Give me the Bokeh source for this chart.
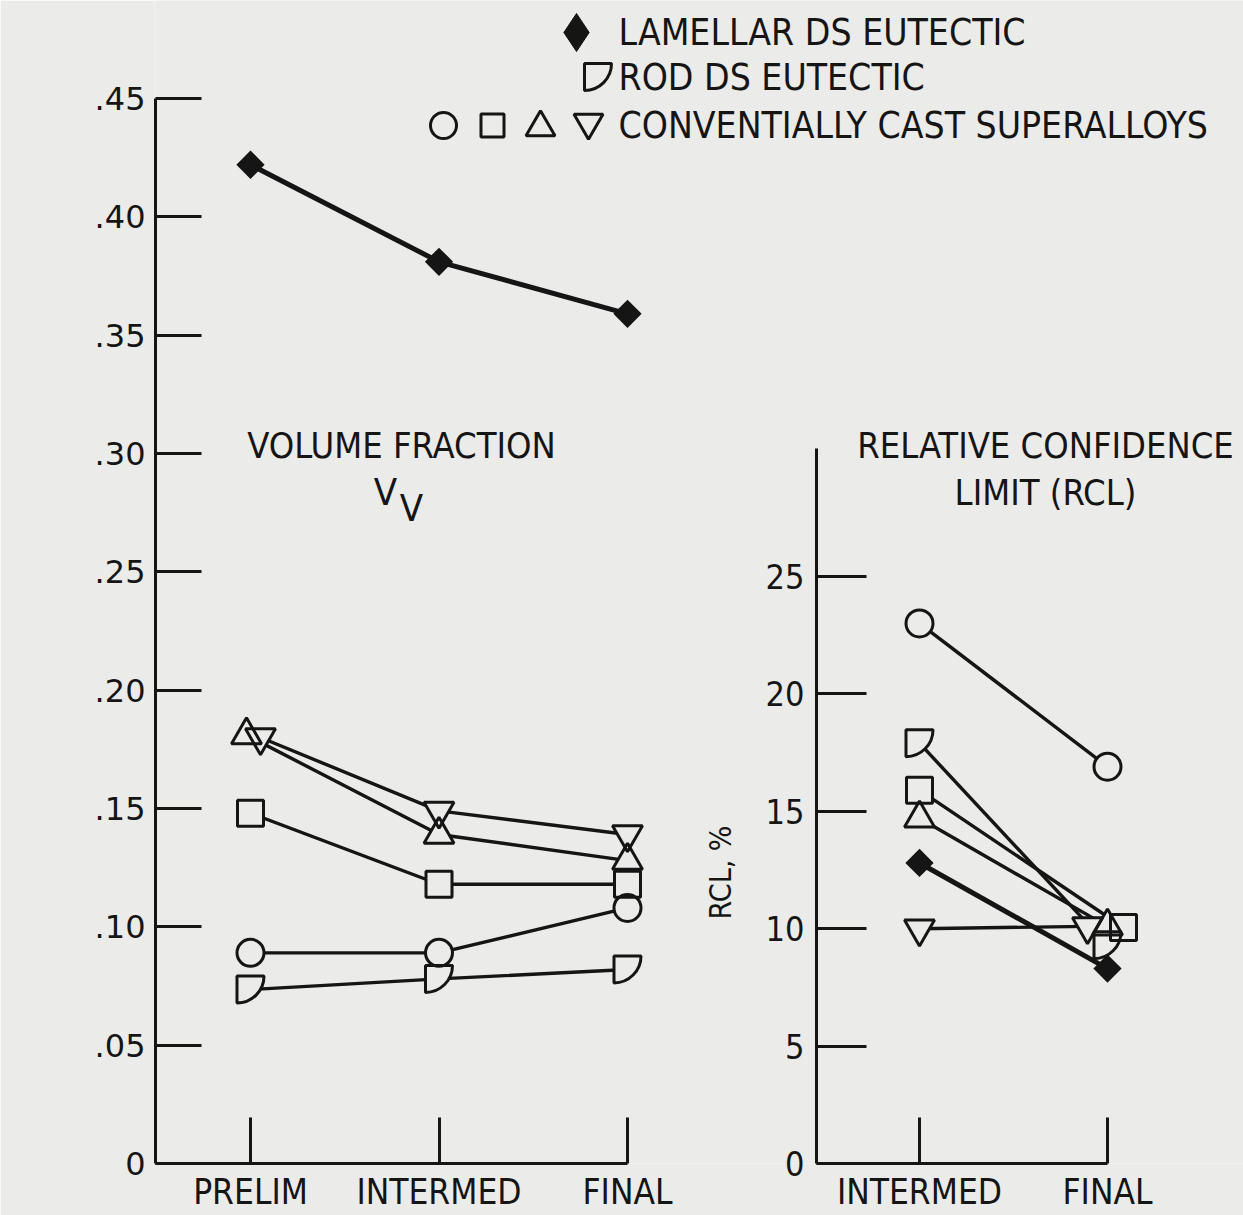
import math
from bokeh.plotting import figure
from bokeh.models import Range1d, FixedTicker, LinearAxis, Label
from bokeh.layouts import row
from bokeh.embed import file_html
from bokeh.resources import INLINE

# ---------------- data ----------------
VV_STAGES = ["PRELIM", "INTERMED", "FINAL"]
RCL_STAGES = ["INTERMED", "FINAL"]

VV_TICKS = [0.0, 0.05, 0.10, 0.15, 0.20, 0.25, 0.30, 0.35, 0.40, 0.45]
VV_TICK_LABELS = ["0", ".05", ".10", ".15", ".20", ".25", ".30", ".35", ".40", ".45"]
RCL_TICKS = [0, 5, 10, 15, 20, 25]
RCL_TICK_LABELS = ["0", "5", "10", "15", "20", "25"]

# volume fraction V_V (PRELIM, INTERMED, FINAL)
VV_LAMELLAR = [0.422, 0.381, 0.359]
VV_ROD = [0.0735, 0.078, 0.082]
VV_CIRCLE = [0.089, 0.089, 0.108]
VV_SQUARE = [0.148, 0.118, 0.118]
VV_TRIANGLE = [0.181, 0.139, 0.128]
VV_INV_TRI = [0.180, 0.149, 0.139]

# relative confidence limit RCL, % (INTERMED, FINAL)
RCL_LAMELLAR = [12.8, 8.3]
RCL_ROD = [17.9, 9.3]
RCL_CIRCLE = [23.0, 16.9]
RCL_SQUARE = [15.9, 10.05]
RCL_TRIANGLE = [14.7, 10.1]
RCL_INV_TRI = [10.0, 10.1]

LEGEND_TEXT = ["LAMELLAR DS EUTECTIC", "ROD DS EUTECTIC", "CONVENTIALLY CAST SUPERALLOYS"]

# ---------------- style / geometry ----------------
INK = "#151515"
BG = "#ebebe9"
FONT = "DejaVu Sans Condensed"
TICK_FONT = "DejaVu Sans"

W, H = 1243, 1215
OFF = 0                      # page offset of the canvas
AXIS_Y = 1163                # image y of the zero line
L_AXIS_X, L_X0, L_DX = 155, 250, 188.5
L_PPU = (1163 - 98) / 0.45
R_AXIS_X, R_X0, R_DX = 816, 919, 188
R_PPU = (1163 - 576) / 25.0
ROD_R = 27

ORDER = ["rod", "circle", "square", "triangle", "invtri", "lamellar"]
MARK = {"circle": ("circle", 27, 0), "square": ("square", 26, 0),
        "triangle": ("triangle", 30, 0), "invtri": ("inverted_triangle", 30, 0),
        "lamellar": ("square", 20, math.pi / 4)}

VV_SERIES = {"lamellar": VV_LAMELLAR, "rod": VV_ROD, "circle": VV_CIRCLE,
             "square": VV_SQUARE, "triangle": VV_TRIANGLE, "invtri": VV_INV_TRI}
RCL_SERIES = {"lamellar": RCL_LAMELLAR, "rod": RCL_ROD, "circle": RCL_CIRCLE,
              "square": RCL_SQUARE, "triangle": RCL_TRIANGLE, "invtri": RCL_INV_TRI}
VV_NUDGE = {"triangle": [-4, 0, 0], "invtri": [10, 0, 0]}
RCL_NUDGE = {"invtri": [0, -20], "square": [0, 16]}


def lx(ix):
    return (ix - L_X0) / L_DX


def ly(iy):
    return (AXIS_Y - iy) / L_PPU


def make_fig(x0img, xdx, ppu, axis_x, transparent):
    xs = (axis_x - x0img) / xdx
    xe = (OFF + W - x0img) / xdx
    ye = (AXIS_Y - OFF) / ppu
    kw = dict(width=W, height=H, x_range=Range1d(xs, xe), y_range=Range1d(0, ye),
              output_backend="svg", toolbar_location=None,
              x_axis_type=None, y_axis_type=None,
              min_border_left=axis_x - OFF, min_border_right=0, min_border_top=0,
              min_border_bottom=H - (AXIS_Y - OFF), outline_line_color=None)
    if transparent:
        kw.update(background_fill_color=None, border_fill_color=None)
    else:
        kw.update(background_fill_color=BG, border_fill_color=BG)
    p = figure(**kw)
    return p, xs


def style_axis(ax, font, size):
    ax.axis_line_width = 3
    ax.axis_line_color = INK
    ax.major_tick_line_width = 3
    ax.major_tick_line_color = INK
    ax.major_tick_in = 46
    ax.major_tick_out = 0
    ax.minor_tick_line_color = None
    ax.major_label_text_font = font
    ax.major_label_text_font_size = f"{size}px"
    ax.major_label_text_color = INK


def draw_marks(p, n, series, nudges, xppu, yppu):
    pts = {}
    for key in ORDER:
        vals = series[key]
        nud = nudges.get(key, [0] * n)
        xs = [i + d / xppu for i, d in zip(range(n), nud)]
        pts[key] = (xs, vals)
        p.line(xs, vals, line_color=INK, line_width=5 if key == "lamellar" else 3.4)
    for outline in (False, True):
        for key in ORDER:
            xs, ys = pts[key]
            if outline:
                st = dict(fill_alpha=0, line_color=INK, line_width=3)
            else:
                st = dict(fill_color=INK if key == "lamellar" else BG, line_alpha=0)
            if key == "rod":
                cx = [x - ROD_R / 2 / xppu for x in xs]
                cy = [y + ROD_R / 2 / yppu for y in ys]
                p.wedge(cx, cy, radius=ROD_R, radius_units="screen",
                        start_angle=-math.pi / 2, end_angle=0, **st)
            else:
                if key == "lamellar" and outline:
                    continue
                m, s, a = MARK[key]
                p.scatter(xs, ys, marker=m, size=s, angle=a, **st)


def text(p, t, ix, iy, size, align="left", font=FONT, angle=0):
    p.add_layout(Label(x=lx(ix), y=ly(iy), text=t, text_font=font,
                       text_font_size=f"{size}px", text_align=align,
                       text_baseline="middle", text_color=INK, angle=angle))


# ---------------- left panel (volume fraction) + legend ----------------
p1, x1s = make_fig(L_X0, L_DX, L_PPU, L_AXIS_X, False)
yax = LinearAxis(ticker=FixedTicker(ticks=VV_TICKS), bounds=(0, VV_TICKS[-1]),
                 major_label_overrides=dict(zip(VV_TICKS, VV_TICK_LABELS)),
                 major_label_standoff=10)
style_axis(yax, TICK_FONT, 32)
p1.add_layout(yax, "left")
xax = LinearAxis(ticker=FixedTicker(ticks=list(range(len(VV_STAGES)))),
                 bounds=(x1s, len(VV_STAGES) - 1),
                 major_label_overrides={i: s for i, s in enumerate(VV_STAGES)},
                 major_label_standoff=8)
style_axis(xax, FONT, 35)
p1.add_layout(xax, "below")

draw_marks(p1, len(VV_STAGES), VV_SERIES, VV_NUDGE, L_DX, L_PPU)

text(p1, "VOLUME FRACTION", 401, 445, 36, "center")
text(p1, "V", 385, 491, 38, "center")
text(p1, "V", 411, 507, 38, "center")
text(p1, "V", 22, 654, 38, "center")
text(p1, "V", 43, 671, 38, "center")
text(p1, "RELATIVE CONFIDENCE", 1045, 445, 36, "center")
text(p1, "LIMIT (RCL)", 1045, 492, 36, "center")
text(p1, "RCL, %", 720, 872, 30, "center", angle=math.pi / 2)

# legend
LEG_Y = [32, 77, 125]
for t, yy in zip(LEGEND_TEXT, LEG_Y):
    text(p1, t, 618, yy, 37)
p1.scatter([lx(576)], [ly(32)], marker="diamond", size=38, fill_color=INK, line_color=INK)
p1.wedge([lx(584)], [ly(63)], radius=ROD_R, radius_units="screen",
         start_angle=-math.pi / 2, end_angle=0, fill_alpha=0, line_color=INK, line_width=3)
p1.scatter([lx(443)], [ly(125)], marker="circle", size=26, fill_alpha=0, line_color=INK, line_width=3)
p1.scatter([lx(492)], [ly(125)], marker="square", size=23, fill_alpha=0, line_color=INK, line_width=3)
p1.scatter([lx(540)], [ly(127)], marker="triangle", size=29, fill_alpha=0, line_color=INK, line_width=3)
p1.scatter([lx(588)], [ly(122)], marker="inverted_triangle", size=29, fill_alpha=0, line_color=INK, line_width=3)

# ---------------- right panel (RCL) ----------------
p2, x2s = make_fig(R_X0, R_DX, R_PPU, R_AXIS_X, True)
yax2 = LinearAxis(ticker=FixedTicker(ticks=RCL_TICKS), bounds=(0, (AXIS_Y - 448) / R_PPU),
                  major_label_overrides=dict(zip(RCL_TICKS, RCL_TICK_LABELS)),
                  major_label_standoff=12)
style_axis(yax2, FONT, 34)
yax2.major_tick_in = 50
p2.add_layout(yax2, "left")
xax2 = LinearAxis(ticker=FixedTicker(ticks=list(range(len(RCL_STAGES)))),
                  bounds=(x2s, len(RCL_STAGES) - 1),
                  major_label_overrides={i: s for i, s in enumerate(RCL_STAGES)},
                  major_label_standoff=8)
style_axis(xax2, FONT, 35)
p2.add_layout(xax2, "below")

draw_marks(p2, len(RCL_STAGES), RCL_SERIES, RCL_NUDGE, R_DX, R_PPU)

# overlay the transparent right-panel figure on top of the left one
p2.margin = (0, 0, 0, -W)
layout = row(p1, p2)
open("out.html", "w").write(file_html(layout, INLINE))
